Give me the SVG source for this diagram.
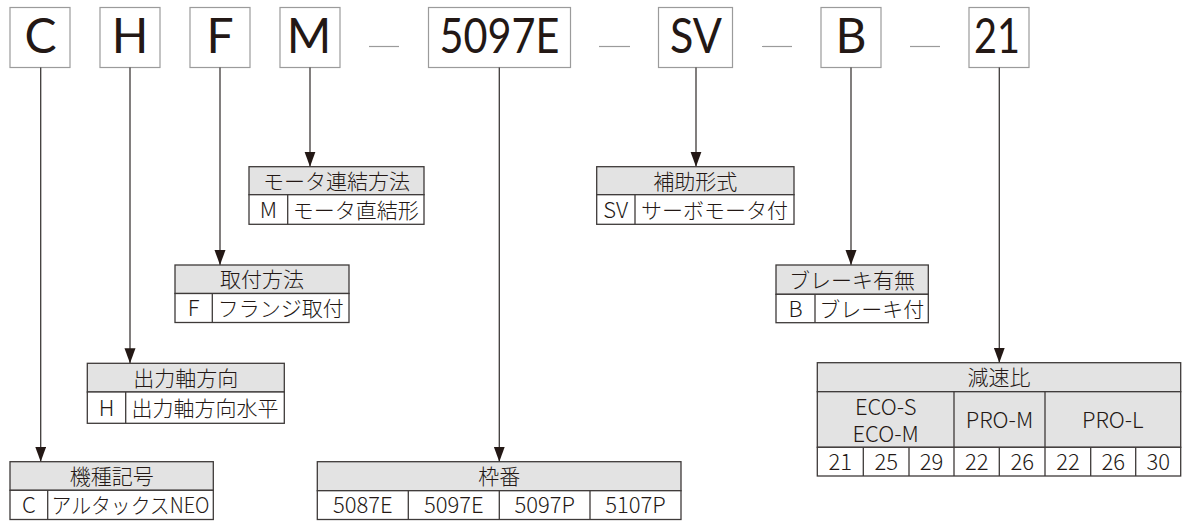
<svg xmlns="http://www.w3.org/2000/svg" width="1184" height="521" viewBox="0 0 1184 521">
<defs>
<marker id="ah" markerUnits="userSpaceOnUse" markerWidth="15" markerHeight="12" refX="15" refY="5.5" orient="auto">
<path d="M0,0 L15,5.5 L0,11 Z" fill="#231815"/>
</marker>
<style>
.box{fill:#fff;stroke:#9b9b9b;stroke-width:1.2}
.big{font-family:Lato,"Noto Sans",sans-serif;font-size:48px;fill:#231815;text-anchor:middle}
.dash{stroke:#9b9b9b;stroke-width:1.2}
.conn{stroke:#3e3a39;stroke-width:1.3;fill:none;marker-end:url(#ah)}
.hd{fill:#e3e3e3;stroke:#3e3a39;stroke-width:1.3}
.cell{fill:#fff;stroke:#3e3a39;stroke-width:1.3}
.div{stroke:#3e3a39;stroke-width:1.3}
.t{font-family:"Noto Sans CJK JP",sans-serif;font-weight:300;font-size:21px;fill:#231815;text-anchor:middle}
.l{font-size:22px}
</style>
</defs>
<rect width="1184" height="521" fill="#fff"/>

<!-- top code boxes -->
<g id="code-C"><rect class="box" x="10" y="7.5" width="60" height="60"/><text class="big" x="40.5" y="53.3">C</text></g>
<g id="code-H"><rect class="box" x="100" y="7.5" width="60" height="60"/><text class="big" x="130" y="53.3">H</text></g>
<g id="code-F"><rect class="box" x="190" y="7.5" width="60" height="60"/><text class="big" x="220" y="53.3">F</text></g>
<g id="code-M"><rect class="box" x="280" y="7.5" width="60" height="60"/><text class="big" x="309" y="53.3">M</text></g>
<g id="code-5097E"><rect class="box" x="428.5" y="7.5" width="142" height="60"/><text class="big" x="499.5" y="53.3" textLength="120" lengthAdjust="spacingAndGlyphs">5097E</text></g>
<g id="code-SV"><rect class="box" x="658.5" y="7.5" width="74" height="60"/><text class="big" x="696" y="53.3" textLength="52" lengthAdjust="spacingAndGlyphs">SV</text></g>
<g id="code-B"><rect class="box" x="821" y="7.5" width="60" height="60"/><text class="big" x="851" y="53.3">B</text></g>
<g id="code-21"><rect class="box" x="969" y="7.5" width="60" height="60"/><text class="big" x="997" y="53.3" textLength="46" lengthAdjust="spacingAndGlyphs">21</text></g>

<g id="dashes">
<line class="dash" x1="369" y1="46.5" x2="399" y2="46.5"/>
<line class="dash" x1="599" y1="46.5" x2="630" y2="46.5"/>
<line class="dash" x1="762" y1="46.5" x2="792" y2="46.5"/>
<line class="dash" x1="910" y1="46.5" x2="940" y2="46.5"/>
</g>

<!-- connectors -->
<g id="connectors">
<line class="conn" x1="40.7" y1="67.5" x2="40.7" y2="461.7"/>
<line class="conn" x1="130" y1="67.5" x2="130" y2="363.3"/>
<line class="conn" x1="220" y1="67.5" x2="220" y2="265"/>
<line class="conn" x1="310" y1="67.5" x2="310" y2="166.7"/>
<line class="conn" x1="499.3" y1="67.5" x2="499.3" y2="461.7"/>
<line class="conn" x1="696" y1="67.5" x2="696" y2="166.7"/>
<line class="conn" x1="851" y1="67.5" x2="851" y2="265"/>
<line class="conn" x1="999.3" y1="67.5" x2="999.3" y2="362.7"/>
</g>

<!-- モータ連結方法 -->
<g id="table-motor">
<rect class="hd" x="249" y="166.7" width="175" height="28"/>
<rect class="cell" x="249" y="194.7" width="175" height="29.6"/>
<line class="div" x1="287.7" y1="194.7" x2="287.7" y2="224.3"/>
<text class="t" x="336.5" y="188.5">モータ連結方法</text>
<text class="t l" x="268.3" y="217.5">M</text>
<text class="t" x="355.8" y="217.5">モータ直結形</text>
</g>

<!-- 取付方法 -->
<g id="table-mount">
<rect class="hd" x="175" y="265" width="174" height="28.5"/>
<rect class="cell" x="175" y="293.5" width="174" height="29"/>
<line class="div" x1="212.3" y1="293.5" x2="212.3" y2="322.5"/>
<text class="t" x="262" y="287">取付方法</text>
<text class="t l" x="193.7" y="316">F</text>
<text class="t" x="280.7" y="316">フランジ取付</text>
</g>

<!-- 出力軸方向 -->
<g id="table-shaft">
<rect class="hd" x="87.3" y="363.3" width="197" height="28.7"/>
<rect class="cell" x="87.3" y="392" width="197" height="31.3"/>
<line class="div" x1="125.7" y1="392" x2="125.7" y2="423.3"/>
<text class="t" x="185.8" y="385.5">出力軸方向</text>
<text class="t l" x="106.5" y="416">H</text>
<text class="t" x="205" y="416">出力軸方向水平</text>
</g>

<!-- 機種記号 -->
<g id="table-model">
<rect class="hd" x="10" y="461.7" width="203.3" height="28.6"/>
<rect class="cell" x="10" y="490.3" width="203.3" height="29.2"/>
<line class="div" x1="47.7" y1="490.3" x2="47.7" y2="519.5"/>
<text class="t" x="111.7" y="484">機種記号</text>
<text class="t l" x="28.8" y="513">C</text>
<text class="t" x="130.5" y="513" textLength="158" lengthAdjust="spacingAndGlyphs">アルタックスNEO</text>
</g>

<!-- 補助形式 -->
<g id="table-aux">
<rect class="hd" x="596.7" y="166.7" width="197.3" height="28"/>
<rect class="cell" x="596.7" y="194.7" width="197.3" height="29.6"/>
<line class="div" x1="635" y1="194.7" x2="635" y2="224.3"/>
<text class="t" x="695.3" y="188.5">補助形式</text>
<text class="t l" x="615.8" y="217.5">SV</text>
<text class="t" x="714.5" y="217.5">サーボモータ付</text>
</g>

<!-- ブレーキ有無 -->
<g id="table-brake">
<rect class="hd" x="776" y="265" width="152.3" height="29.3"/>
<rect class="cell" x="776" y="294.3" width="152.3" height="28.4"/>
<line class="div" x1="815" y1="294.3" x2="815" y2="322.7"/>
<text class="t" x="852" y="287.5">ブレーキ有無</text>
<text class="t l" x="795.5" y="316.5">B</text>
<text class="t" x="871.7" y="316.5">ブレーキ付</text>
</g>

<!-- 枠番 -->
<g id="table-frame">
<rect class="hd" x="317.3" y="461.7" width="363.7" height="29"/>
<rect class="cell" x="317.3" y="490.7" width="363.7" height="28.8"/>
<line class="div" x1="408.3" y1="490.7" x2="408.3" y2="519.5"/>
<line class="div" x1="499.3" y1="490.7" x2="499.3" y2="519.5"/>
<line class="div" x1="590" y1="490.7" x2="590" y2="519.5"/>
<text class="t" x="499.2" y="484">枠番</text>
<text class="t l" x="362.8" y="513">5087E</text>
<text class="t l" x="453.8" y="513">5097E</text>
<text class="t l" x="544.7" y="513">5097P</text>
<text class="t l" x="635.5" y="513">5107P</text>
</g>

<!-- 減速比 -->
<g id="table-ratio">
<rect class="hd" x="817.3" y="362.7" width="363.4" height="29"/>
<rect class="hd" x="817.3" y="391.7" width="363.4" height="55.6"/>
<rect class="cell" x="817.3" y="447.3" width="363.4" height="28.7"/>
<line class="div" x1="954" y1="391.7" x2="954" y2="476"/>
<line class="div" x1="1045" y1="391.7" x2="1045" y2="476"/>
<line class="div" x1="863.3" y1="447.3" x2="863.3" y2="476"/>
<line class="div" x1="909" y1="447.3" x2="909" y2="476"/>
<line class="div" x1="999.3" y1="447.3" x2="999.3" y2="476"/>
<line class="div" x1="1090.7" y1="447.3" x2="1090.7" y2="476"/>
<line class="div" x1="1135.7" y1="447.3" x2="1135.7" y2="476"/>
<text class="t" x="999" y="385">減速比</text>
<text class="t l" x="885.7" y="415">ECO-S</text>
<text class="t l" x="885.7" y="441.5">ECO-M</text>
<text class="t l" x="999.5" y="428">PRO-M</text>
<text class="t l" x="1112.8" y="428">PRO-L</text>
<text class="t l" x="840.3" y="469.5">21</text>
<text class="t l" x="886.2" y="469.5">25</text>
<text class="t l" x="931.5" y="469.5">29</text>
<text class="t l" x="976.7" y="469.5">22</text>
<text class="t l" x="1022.2" y="469.5">26</text>
<text class="t l" x="1067.9" y="469.5">22</text>
<text class="t l" x="1113.2" y="469.5">26</text>
<text class="t l" x="1158.2" y="469.5">30</text>
</g>
</svg>
